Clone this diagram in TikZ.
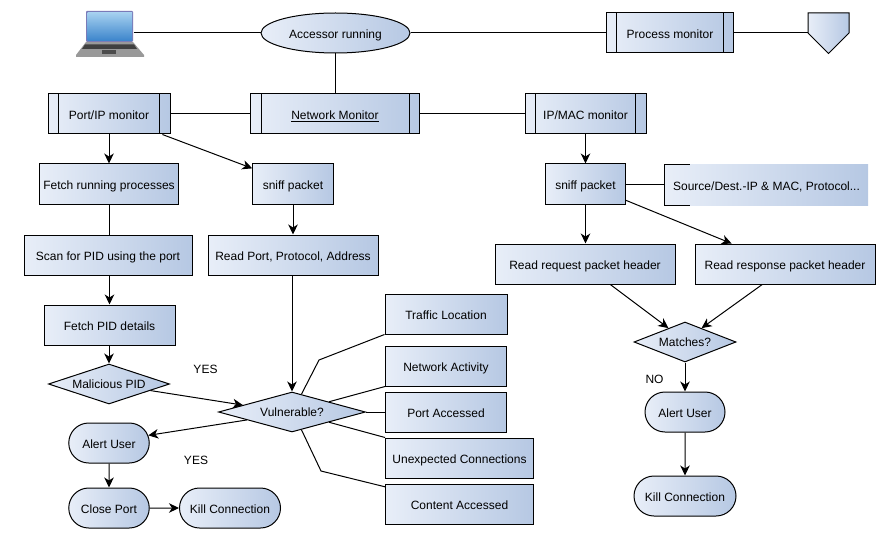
\documentclass[tikz,border=0pt]{standalone}
\usepackage{fontspec}
\setmainfont{Liberation Sans}
\usetikzlibrary{arrows.meta,shapes.geometric,shapes.misc,shapes.symbols}
\definecolor{shadeL}{HTML}{E8EEF8}
\definecolor{shadeR}{HTML}{B6C8E3}
\definecolor{screenT}{HTML}{A4CFEF}
\definecolor{screenB}{HTML}{3B84CB}

\tikzset{
	shaded/.style={left color=shadeL,right color=shadeR,font=\fontsize{12}{14}\selectfont,inner sep=0pt,text height=12pt,text depth=0.4pt},
	flowbox/.style={rectangle,draw,shaded,minimum height=40pt},
	procbox/.style={flowbox,path picture={
		\draw ([xshift=10.5pt]path picture bounding box.north west) -- ([xshift=10.5pt]path picture bounding box.south west);
		\draw ([xshift=-10.5pt]path picture bounding box.north east) -- ([xshift=-10.5pt]path picture bounding box.south east);
	}},
	notebox/.style={rectangle,shaded,minimum height=40pt},
	termbox/.style={rounded rectangle,draw,shaded,minimum height=40pt},
	decision/.style={diamond,draw,shaded,aspect=2.5},
	plainlabel/.style={font=\fontsize{12}{14}\selectfont}
}

\begin{document}
\begin{tikzpicture}
		[x=1pt,y=-1pt,line width=1pt,>={Stealth[length=10pt,width=9.5pt,inset=3pt]}]
		\useasboundingbox (0,0) rectangle (885,540);

		% top row
		\node[fill=gray!70!blue!80,rounded corners=1pt,minimum width=47pt,minimum height=31pt,inner sep=0pt] (laptop) at (109.5,26.5) {};
		\shade[top color=screenT,bottom color=screenB] (87.5,13) rectangle (132,41);
		\fill[gray!80] (86,42) -- (133,42) -- (144,55) -- (144,57) -- (76,57) -- (76,55) -- cycle;
		\fill[gray!50!black] (85,44.5) -- (134,44.5) -- (137,49) -- (82,49) -- cycle;
		\fill[gray!60!black] (102,50) rectangle (116,54);
		\node[ellipse,draw,shaded,minimum width=149pt,minimum height=40pt] (accessor) at (335.5,33) {Accessor running};
		\node[procbox,minimum width=127.5pt] (procmon) at (670,33) {Process monitor};
		\node[signal,signal to=south,signal from=nowhere,signal pointer angle=90,draw,shaded,text height=0pt,text depth=0pt,minimum width=41pt,minimum height=20pt] (offpage) at (828.5,23) {};

		% monitors
		\node[procbox,minimum width=122pt] (portip) at (109,114) {Port/IP monitor};
		\node[procbox,minimum width=169pt] (netmon) at (335,114) {\underline{Network Monitor}};
		\node[procbox,minimum width=121pt] (ipmac) at (585.5,114) {IP/MAC monitor};

		% left branch
		\node[flowbox,minimum width=138.5pt] (fetchrun) at (109,184) {Fetch running processes};
		\node[flowbox,minimum width=80.5pt] (sniffa) at (293,184) {sniff packet};
		\node[flowbox,minimum width=168pt] (scan) at (108,255) {Scan for PID using the port};
		\node[flowbox,minimum width=170pt] (readport) at (293,255) {Read Port, Protocol, Address};
		\node[flowbox,minimum width=131pt] (fetchpid) at (109.5,325) {Fetch PID details};
		\node[decision,minimum width=121pt,minimum height=40pt,text height=10pt] (malicious) at (109,384) {Malicious PID};
		\node[decision,minimum width=147pt,minimum height=40pt,text height=10pt] (vuln) at (292,412) {Vulnerable?};
		\node[termbox,minimum width=80.5pt] (alerta) at (109,443) {Alert User};
		\node[termbox,minimum width=80.5pt] (closeport) at (109,508) {Close Port};
		\node[termbox,minimum width=101pt] (killa) at (230,508) {Kill Connection};

		% what is looked at
		\node[flowbox,minimum width=122pt] (traffic) at (446,314) {Traffic Location};
		\node[flowbox,minimum width=121pt] (netact) at (446,366) {Network Activity};
		\node[flowbox,minimum width=121pt] (portacc) at (446,412) {Port Accessed};
		\node[flowbox,minimum width=148pt] (unexp) at (459.5,458) {Unexpected Connections};
		\node[flowbox,minimum width=148pt] (contacc) at (459.5,504) {Content Accessed};

		% right branch
		\node[flowbox,minimum width=80pt] (sniffb) at (585.5,184) {sniff packet};
		\node[notebox,minimum width=203pt] (source) at (766.5,185) {Source/Dest.-IP \& MAC, Protocol...};
		\node[flowbox,minimum width=180pt] (readreq) at (585,264) {Read request packet header};
		\node[flowbox,minimum width=180pt] (readresp) at (785,264) {Read response packet header};
		\node[decision,minimum width=102pt,minimum height=40pt,text height=10pt] (matches) at (685,342) {Matches?};
		\node[termbox,minimum width=80pt] (alertb) at (685,412) {Alert User};
		\node[termbox,minimum width=102pt] (killb) at (685,496) {Kill Connection};

		\node[plainlabel] (yesa) at (205.5,369.5) {YES};
		\node[plainlabel] (yesb) at (196,460.5) {YES};
		\node[plainlabel] (no) at (654.5,379) {NO};

		\coordinate (trafficbend) at (319,360);
		\coordinate (contbend) at (321,471);

		\draw ([xshift=25pt]source.north west) -- (source.north west) -- (source.south west) -- ([xshift=25pt]source.south west);

		\draw (laptop.east |- accessor.west) -- (accessor.west);
		\draw (accessor) -- (procmon);
		\draw (procmon.east) -- (offpage.west |- procmon.east);
		\draw (accessor) -- (accessor |- netmon.north);
		\draw (portip) -- (netmon);
		\draw (netmon) -- (ipmac);

		\draw[->] (portip) -- (fetchrun);
		\draw[->] (portip.-21) -- (sniffa.159);
		\draw (fetchrun) -- (fetchrun |- scan.north);
		\draw[->] (fetchpid |- scan.south) -- (fetchpid);
		\draw[->] (malicious |- fetchpid.south) -- (malicious);
		\draw[->] (malicious.-9) -- (vuln.172);
		\draw[->] (vuln.190) -- (alerta.11);
		\draw[->] (alerta) -- (closeport);
		\draw[->] (closeport) -- (killa);
		\draw[->] (sniffa) -- (readport);
		\draw[->] (vuln |- readport.south) -- (vuln);

		\draw (vuln.62) -- (trafficbend) -- (traffic.south west);
		\draw (vuln.north east) -- (netact.south west);
		\draw (vuln) -- (portacc);
		\draw (vuln.south east) -- (unexp.north west);
		\draw (vuln.-62) -- (contbend) -- (contacc.167);

		\draw[->] (ipmac) -- (sniffb);
		\draw (sniffb) -- (sniffb -| source.west);
		\draw[->] (sniffb) -- (sniffb |- readreq.north);
		\draw[->] (sniffb.-22) -- (readresp.159);
		\draw[->] (readreq.-39) -- (matches.140);
		\draw[->] (readresp.-138) -- (matches.40);
		\draw[->] (matches) -- (alertb);
		\draw[->] (alertb) -- (killb);
	\end{tikzpicture}
\end{document}
